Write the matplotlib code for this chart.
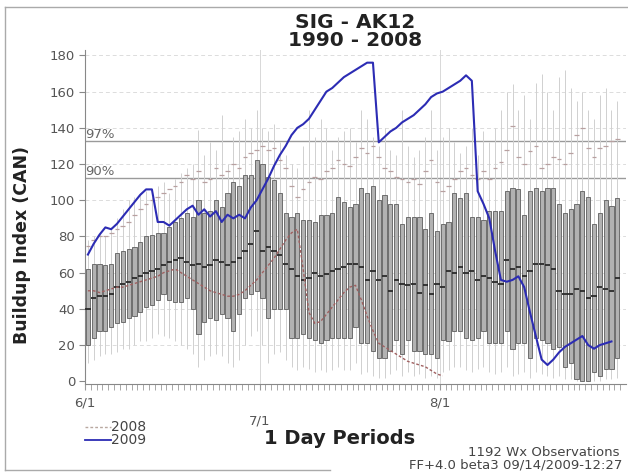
import numpy as np
import matplotlib.pyplot as plt
from matplotlib.lines import Line2D

plt.rcParams['font.family'] = ['DejaVu Sans']

# daily stats, 6/1 .. 8/31 (92 days)
box_hi = [62, 65, 65, 64, 65, 71, 72, 73, 74, 77,
          80, 81, 82, 82, 85, 88, 90, 93, 91, 100,
          93, 94, 100, 96, 104, 110, 108, 114, 114, 122,
          120, 113, 111, 104, 93, 91, 93, 89, 89, 88,
          92, 92, 93, 102, 99, 96, 98, 107, 104, 108,
          100, 103, 98, 98, 87, 91, 91, 91, 84, 93,
          83, 87, 88, 104, 101, 104, 91, 91, 89, 94,
          94, 94, 105, 107, 106, 92, 105, 107, 105, 107,
          107, 98, 93, 95, 98, 105, 102, 87, 93, 100,
          97, 101]
box_lo = [20, 24, 28, 28, 30, 32, 33, 35, 36, 38,
          41, 42, 45, 48, 45, 44, 44, 46, 40, 26,
          33, 35, 34, 37, 35, 28, 37, 46, 48, 50,
          46, 35, 40, 40, 40, 24, 24, 26, 24, 23,
          21, 23, 24, 24, 24, 24, 30, 21, 21, 17,
          13, 13, 17, 23, 15, 23, 17, 17, 15, 15,
          13, 23, 22, 28, 28, 24, 23, 24, 28, 21,
          21, 21, 28, 18, 21, 21, 13, 24, 23, 21,
          18, 19, 8, 10, 1, 0, 0, 5, 3, 7,
          7, 13]
median = [40, 46, 47, 47, 48, 52, 54, 55, 57, 58,
          60, 61, 62, 64, 66, 67, 68, 66, 64, 65,
          63, 64, 67, 66, 64, 66, 68, 72, 76, 83,
          72, 74, 72, 70, 65, 62, 58, 56, 57, 60,
          58, 59, 61, 62, 63, 65, 65, 63, 56, 61,
          56, 58, 50, 56, 54, 53, 54, 49, 53, 48,
          54, 52, 61, 60, 63, 60, 61, 56, 58, 57,
          55, 54, 67, 62, 63, 58, 61, 65, 65, 64,
          62, 50, 48, 48, 51, 50, 46, 47, 52, 51,
          50, 57]
whisk_hi = [78, 80, 82, 80, 85, 90, 95, 100, 102, 104,
            105, 102, 108, 110, 104, 112, 115, 118, 120, 139,
            125, 132, 128, 147, 120, 135, 138, 145, 140, 150,
            140, 138, 142, 132, 125, 120, 118, 130, 150, 135,
            145, 140, 128, 135, 138, 140, 132, 150, 145, 135,
            130, 140, 128, 125, 150, 130, 124, 128, 135, 150,
            128, 135, 140, 132, 126, 130, 140, 125, 138, 132,
            140, 150, 160, 164, 150, 158, 145, 165, 170, 160,
            150, 168, 172, 162, 155, 160, 150, 145, 158, 162,
            150, 155]
whisk_lo = [10, 12, 14, 15, 15, 16, 18, 18, 20, 22,
            22, 24, 26, 25, 24, 22, 20, 18, 15, 8,
            12, 14, 15, 14, 10, 8, 12, 20, 25, 28,
            20, 10, 15, 16, 12, 8, 6, 8, 7, 5,
            6, 5, 6, 8, 6, 6, 10, 4, 5, 3,
            2, 2, 4, 6, 3, 5, 3, 4, 2, 3,
            2, 5, 6, 8, 8, 6, 5, 7, 8, 5,
            4, 5, 8, 3, 4, 5, 2, 5, 4, 3,
            2, 3, 1, 1, 0, 0, 0, 0, 0, 1,
            1, 2]
upper_mark = [75, 78, 80, 80, 82, 84, 86, 88, 92, 95,
              98, 100, 102, 104, 106, 108, 110, 114, 112, 116,
              110, 112, 118, 114, 116, 120, 118, 124, 126, 128,
              130, 128, 129, 122, 118, 108, 102, 106, 110, 113,
              112, 116, 118, 122, 120, 119, 124, 129, 126, 130,
              124, 118, 116, 113, 112, 110, 112, 109, 116, 122,
              110, 105, 108, 112, 116, 118, 114, 112, 116, 112,
              118, 121, 128, 141, 124, 120, 127, 130, 118, 120,
              124, 123, 120, 126, 136, 140, 129, 124, 129, 130,
              133, 134]

bui_2008 = [50, 50, 49, 50, 51, 52, 52, 53, 54, 55,
            56, 57, 58, 60, 61, 62, 60, 58, 56, 54,
            52, 50, 49, 48, 47, 47, 48, 50, 53, 56,
            60, 64, 68, 73, 78, 82, 84, 62, 38, 32,
            33, 37, 41, 45, 49, 52, 53, 45, 36, 28,
            21, 19, 17, 15, 13, 11, 10, 9, 8, 6,
            4, 3]
bui_2009 = [70, 76, 81, 85, 84, 87, 91, 95, 99, 103,
            106, 106, 88, 88, 86, 89, 92, 95, 97, 92,
            95, 91, 94, 88, 92, 90, 92, 90, 96, 100,
            106, 112, 119, 125, 130, 136, 140, 142, 145, 150,
            155, 160, 162, 165, 168, 170, 172, 174, 176, 176,
            132, 135, 138, 140, 143, 145, 147, 150, 153, 157,
            159, 160, 162, 164, 166, 169, 166, 105, 98, 90,
            72, 56, 55, 56, 58, 52, 38, 25, 12, 9,
            12, 16, 19, 21, 23, 25, 20, 18, 20, 21,
            22]

pct97, pct90 = 132.5, 112.5
tick_pos = [0, 30, 61]
tick_lbl = ['6/1', '7/1', '8/1']

fig = plt.figure(figsize=(6.28, 4.74), dpi=100)
ax = fig.add_axes([85/628, 90/474, 541/628, 334/474])

x = np.arange(len(box_hi)) + 0.5
hi = np.array(box_hi); lo = np.array(box_lo)

# grid
for g in range(20, 200, 20):
    ax.axhline(g, color='#dcdcdc', lw=0.7, ls=(0, (4, 3)), zorder=0)
for t in tick_pos[1:]:
    ax.axvline(t, color='#d8d8d8', lw=0.7, zorder=0)
ax.axhline(pct97, color='#9a9a9a', lw=1.0, zorder=1)
ax.axhline(pct90, color='#9a9a9a', lw=1.0, zorder=1)
ax.text(0.0, pct97, '97%', fontsize=9.5, color='#666666', va='bottom', ha='left')
ax.text(0.0, pct90, '90%', fontsize=9.5, color='#666666', va='bottom', ha='left')

# boxes
ax.vlines(x, whisk_lo, whisk_hi, color='#d0d0d0', lw=0.7, zorder=1)
ax.bar(x, hi - lo, bottom=lo, width=0.72, color='#b2b2b2',
       edgecolor='#5e5e5e', lw=0.6, zorder=2)
ax.hlines(median, x - 0.45, x + 0.45, color='#2a2a2a', lw=1.3, zorder=3)
ax.hlines(upper_mark, x - 0.4, x + 0.4, color='#b8a0a0', lw=0.9, zorder=2)

# lines
ax.plot(np.arange(len(bui_2008)) + 0.5, bui_2008, color='#a06060',
        lw=1.0, ls=(0, (2, 1.5)), zorder=4)
ax.plot(np.arange(len(bui_2009)) + 0.5, bui_2009, color='#2c2cb4', lw=1.5, zorder=5)

ax.set_xlim(0, 93)
ax.set_ylim(-1.5, 183)
ax.set_yticks(range(0, 181, 20))
ax.tick_params(axis='y', labelsize=9.5, labelcolor='#555555', color='#888888',
               length=4, pad=3)
ax.set_xticks(tick_pos)
ax.set_xticklabels([])
ax.set_xticks(np.arange(0, 93), minor=True)
ax.tick_params(axis='x', which='both', direction='out', length=4, color='#999999')
for s in ['top', 'right']:
    ax.spines[s].set_visible(False)
for s in ['left', 'bottom']:
    ax.spines[s].set_color('#888888')

# staggered date labels
for t, l in zip(tick_pos, tick_lbl):
    dy = -27 if l == '7/1' else -14
    ax.annotate(l, (t, 0), xycoords=('data', 'axes fraction'), xytext=(0, dy),
                textcoords='offset points', ha='center', va='center',
                fontsize=9.5, color='#555555')

fig.text(355/628, 1 - 22/474, 'SIG - AK12', ha='center', va='center',
         fontsize=14.5, fontweight='bold', color='#222222')
fig.text(355/628, 1 - 40/474, '1990 - 2008', ha='center', va='center',
         fontsize=14.5, fontweight='bold', color='#222222')
fig.text(22/628, 1 - 245/474, 'Buildup Index (CAN)', rotation=90, ha='center',
         va='center', fontsize=12.5, fontweight='bold', color='#222222')
fig.text(340/628, 1 - 438/474, '1 Day Periods', ha='center', va='center',
         fontsize=14, fontweight='bold', color='#222222')
fig.text(620/628, 1 - 452/474, '1192 Wx Observations', ha='right', va='center',
         fontsize=9.5, color='#444444')
fig.text(622/628, 1 - 465/474, 'FF+4.0 beta3 09/14/2009-12:27', ha='right',
         va='center', fontsize=9.5, color='#444444')

# legend
fig.add_artist(Line2D([85/628, 111/628], [1 - 427/474] * 2, color='#b8a8a0',
                      lw=1.0, ls=(0, (2, 1.5))))
fig.add_artist(Line2D([85/628, 111/628], [1 - 440/474] * 2, color='#2c2cb4', lw=1.3))
fig.text(111/628, 1 - 427/474, '2008', va='center', fontsize=10, color='#444444')
fig.text(111/628, 1 - 440/474, '2009', va='center', fontsize=10, color='#444444')

# outer frame
fig.add_artist(Line2D([5/628, 5/628], [1 - 7/474, 1 - 470/474], color='#aaaaaa', lw=1))
fig.add_artist(Line2D([5/628, 1], [1 - 7/474] * 2, color='#aaaaaa', lw=1))
fig.add_artist(Line2D([5/628, 330/628], [1 - 470/474] * 2, color='#aaaaaa', lw=1))

fig.savefig('out.png', dpi=100)
